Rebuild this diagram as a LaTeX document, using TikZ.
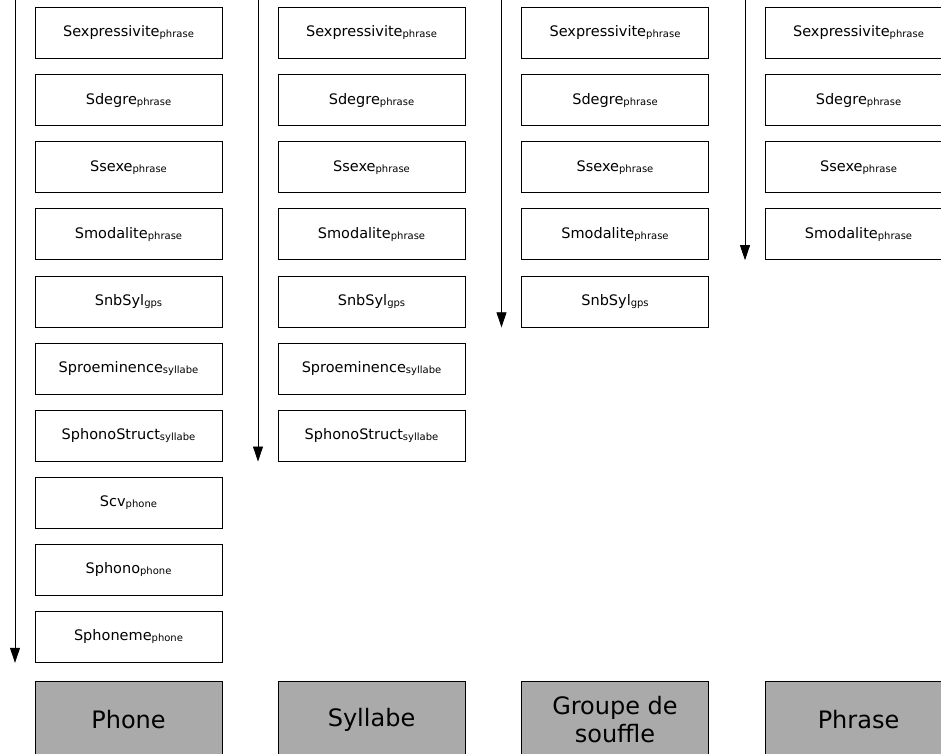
\documentclass[tikz,border=0pt]{standalone}
\usepackage{fontspec}
\setmainfont{DejaVu Sans}
\usetikzlibrary{positioning,arrows.meta}
\definecolor{levgray}{HTML}{AAAAAA}
% attribute name with its domain as a small subscript
\newcommand{\attrlbl}[2]{#1\raisebox{-1pt}{\fontsize{10}{11}\selectfont #2}}
\begin{document}
\begin{tikzpicture}[x=1pt,y=-1pt,
    attr/.style={draw,line width=0.8pt,minimum width=187pt,minimum height=51pt,
        inner sep=0pt,font=\fontsize{14.5}{16}\selectfont},
    level/.style={draw,line width=0.8pt,fill=levgray,minimum width=187pt,minimum height=78pt,
        inner sep=0pt,align=center,font=\fontsize{24}{28}\selectfont},
    flow/.style={line width=0.8pt,-{Triangle[length=15pt,width=10pt]}}
]
    \useasboundingbox (0,0) rectangle (941,753);
    \clip (0,0) rectangle (941,753);
    \foreach \col/\xc/\n/\lev in {phone/128.5/10/Phone, syl/371.5/7/Syllabe,
            gps/615/5/{Groupe de\\souffle}, phr/858.5/4/Phrase} {
        \foreach \i/\nom/\dom in {1/Sexpressivite/phrase, 2/Sdegre/phrase,
                3/Ssexe/phrase, 4/Smodalite/phrase, 5/SnbSyl/gps,
                6/Sproeminence/syllabe, 7/SphonoStruct/syllabe, 8/Scv/phone,
                9/Sphono/phone, 10/Sphoneme/phone} {
            \ifnum\i>\n\else
                \node[attr] (\col\i) at (\xc,{33+67.1*(\i-1)}) {\attrlbl{\nom}{\dom}};
            \fi
        }
        \node[level] (\col-lev) at (\xc,720) {\lev};
        \coordinate (\col-top) at (\xc-113.5,-2);
        \draw[flow] (\col-top) -- (\col-top |- \col\n.south);
    }
\end{tikzpicture}
\end{document}
